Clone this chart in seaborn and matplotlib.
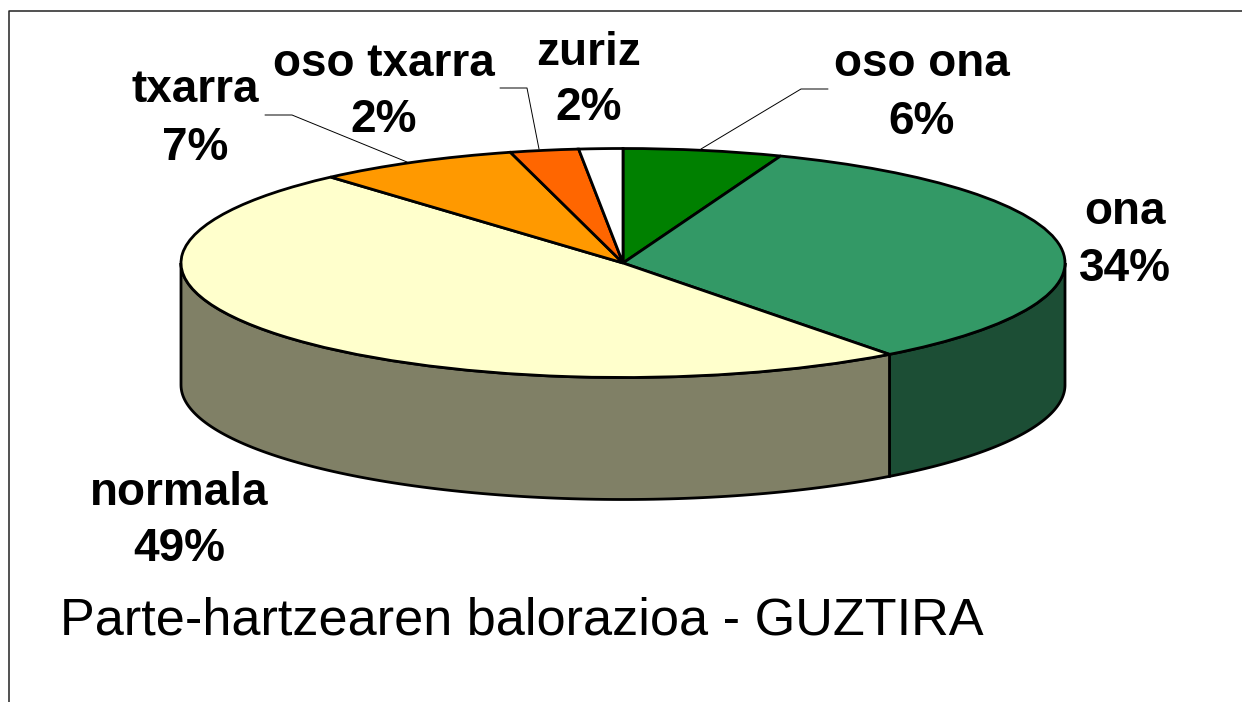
import numpy as np
import matplotlib
matplotlib.use("Agg")
import matplotlib.pyplot as plt
import seaborn as sns

# clockwise from 12 o'clock, shares measured on the ellipse
categories = ["oso ona", "ona", "normala", "txarra", "oso txarra", "zuriz"]
shares = [5.8, 33.9, 48.8, 7.4, 2.5, 1.6]
percent_labels = ["6%", "34%", "49%", "7%", "2%", "2%"]
top_colors = ["#008000", "#339966", "#FFFFCC", "#FF9900", "#FF6600", "#FFFFFF"]
side_colors = ["#004000", "#1C4E35", "#808066", "#805000", "#803300", "#808080"]
title = "Parte-hartzearen balorazioa - GUZTIRA"

W, H = 1242, 702
CX, CY, RX, RY, DEPTH = 623, 263, 442, 114.5, 122

sns.set_theme(style="white")
plt.rcParams["font.family"] = ["Liberation Sans", "DejaVu Sans"]

fig = plt.figure(figsize=(W / 100, H / 100), dpi=100, facecolor="white")
ax = fig.add_axes([0, 0, 1, 1])

# one data unit is the pie radius, so the circle comes out squashed
palette = sns.color_palette(top_colors)
wedges, _ = ax.pie(shares, colors=palette, startangle=90, counterclock=False, radius=1,
                   wedgeprops={"edgecolor": "black", "linewidth": 2.0}, frame=True)
for wedge in wedges:
    wedge.set_zorder(3)
ax.set_aspect("auto")
ax.set_xlim(-CX / RX, (W - CX) / RX)
ax.set_ylim((CY - H) / RY, CY / RY)
ax.axis("off")

# side wall of the visible front half
edges = np.cumsum([0] + shares) / sum(shares) * 360
depth = DEPTH / RY
for i in range(len(shares)):
    start = max(edges[i], 90)
    stop = min(edges[i + 1], 270)
    if stop <= start:
        continue
    theta = np.radians(np.linspace(start, stop, 120))
    x = np.sin(theta)
    y = np.cos(theta)
    ax.fill(np.r_[x, x[::-1]], np.r_[y, y[::-1] - depth], facecolor=side_colors[i],
            edgecolor="black", linewidth=2.0, zorder=2)

overlay = fig.add_axes([0, 0, 1, 1], facecolor="none")
overlay.set_xlim(0, W)
overlay.set_ylim(H, 0)
overlay.axis("off")

# frame of the slide, open on the right and at the bottom
overlay.plot([8.5, 8.5, W], [H, 11, 11], color="#222222", lw=1.1, clip_on=False)

# leader lines
leaders = [([265, 292, 407], [115, 115, 162]),
           ([500, 527, 539], [88, 88, 149]),
           ([828, 801, 701], [89, 89, 149])]
for lx, ly in leaders:
    overlay.plot(lx, ly, color="black", lw=0.7)

label_pos = [(922, 64, 122), (1125, 212, 269), (179, 493, 549),
             (195, 90, 148), (384, 64, 120), (589, 53, 108)]
for name, pct, (px, y1, y2) in zip(categories, percent_labels, label_pos):
    overlay.text(px, y1, name, ha="center", va="center", fontsize=33, fontweight="bold", color="black")
    overlay.text(px, y2, pct, ha="center", va="center", fontsize=33, fontweight="bold", color="black")

overlay.text(60, 621, title, ha="left", va="center", fontsize=37.6, color="black")

fig.savefig("out.png", dpi=100)
